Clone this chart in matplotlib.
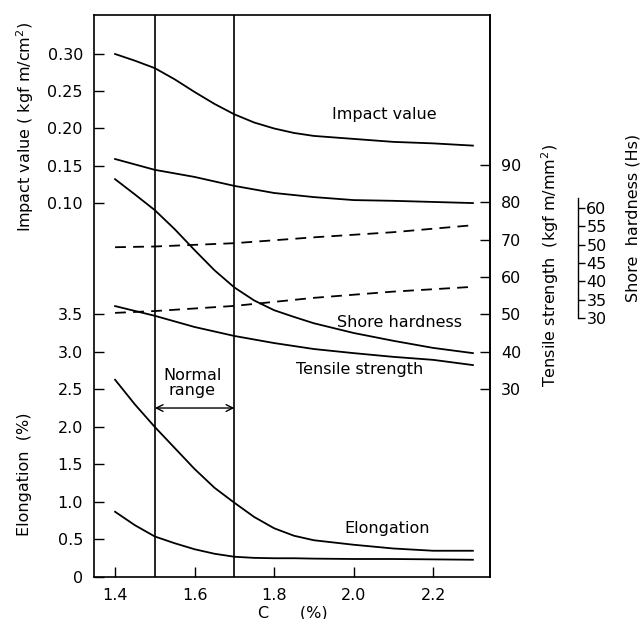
import numpy as np
import matplotlib
matplotlib.use("Agg")
import matplotlib.pyplot as plt

# --- DATA ---
c_pct = [1.4, 1.5, 1.6, 1.7, 1.8, 1.9, 2.0, 2.1, 2.2, 2.3]
c_fine = [1.4, 1.45, 1.5, 1.55, 1.6, 1.65, 1.7, 1.75, 1.8, 1.85, 1.9, 2.0, 2.1, 2.2, 2.3]

impact = [0.300, 0.291, 0.281, 0.266, 0.249, 0.233, 0.219, 0.208, 0.200, 0.194,
          0.190, 0.186, 0.182, 0.180, 0.177]                                  # kgf m/cm2

tensile_upper = [91.6, 88.7, 86.8, 84.4, 82.5, 81.4, 80.6, 80.4, 80.1, 79.8]   # kgf/mm2
hardness_curve = [86.2, 82.1, 77.9, 72.8, 67.2, 61.8, 57.2, 53.7, 51.1, 49.3,
                  47.6, 45.0, 42.9, 41.0, 39.6]                                # on tensile scale
tensile_lower = [52.2, 49.6, 46.6, 44.2, 42.3, 40.7, 39.6, 38.6, 37.8, 36.4]

dash_x = [1.4, 1.5, 1.7, 1.9, 2.1, 2.3]
shore_upper = [49.3, 49.5, 50.4, 52.0, 53.4, 55.3]   # Hs
shore_lower = [31.4, 31.9, 33.3, 35.5, 37.2, 38.5]

elong_upper = [2.63, 2.30, 2.00, 1.72, 1.44, 1.19, 0.99, 0.80, 0.65, 0.55,
               0.49, 0.43, 0.38, 0.35, 0.35]                                   # %
elong_lower = [0.87, 0.69, 0.54, 0.45, 0.37, 0.31, 0.27, 0.255, 0.25, 0.25,
               0.245, 0.24, 0.24, 0.235, 0.23]

normal_range = (1.5, 1.7)

x_ticks = [1.4, 1.6, 1.8, 2.0, 2.2]
elong_ticks = [0, 0.5, 1.0, 1.5, 2.0, 2.5, 3.0, 3.5]
elong_labels = ["0", "0.5", "1.0", "1.5", "2.0", "2.5", "3.0", "3.5"]
impact_ticks = [0.10, 0.15, 0.20, 0.25, 0.30]
impact_labels = ["0.10", "0.15", "0.20", "0.25", "0.30"]
tensile_ticks = [30, 40, 50, 60, 70, 80, 90]
shore_ticks = [30, 35, 40, 45, 50, 55, 60]


# --- scale mappings onto the common plot height (elongation units) ---
def imp2u(v):
    return 4.987 + (np.asarray(v) - 0.10) * 9.93

def ten2u(t):
    return 2.507 + (np.asarray(t) - 30) * 0.04977

def u2ten(u):
    return 30 + (np.asarray(u) - 2.507) / 0.04977

def sh2u(s):
    return 3.453 + (np.asarray(s) - 30) * 0.0489

def u2sh(u):
    return 30 + (np.asarray(u) - 3.453) / 0.0489


plt.rcParams['font.family'] = ['DejaVu Sans']
FS = 11.5
W, H = 644, 619
fig = plt.figure(figsize=(W / 100, H / 100), dpi=100)
ax = fig.add_axes([94 / W, 1 - 577 / H, 396 / W, 562 / H])
ax.set_xlim(1.347, 2.343)
ax.set_ylim(0, 7.493)

lw = 1.3
ax.plot(c_fine, imp2u(impact), color='black', lw=lw)
ax.plot(c_pct, ten2u(tensile_upper), color='black', lw=lw)
ax.plot(c_fine, ten2u(hardness_curve), color='black', lw=lw)
ax.plot(c_pct, ten2u(tensile_lower), color='black', lw=lw)
ax.plot(dash_x, sh2u(shore_upper), color='black', lw=lw, ls=(0, (6, 4)))
ax.plot(dash_x, sh2u(shore_lower), color='black', lw=lw, ls=(0, (6, 4)))
ax.plot(c_fine, elong_upper, color='black', lw=lw)
ax.plot(c_fine, elong_lower, color='black', lw=lw)

for xv in normal_range:
    ax.axvline(xv, color='black', lw=1.2)

ax.annotate("", xy=(normal_range[0], 2.253), xytext=(normal_range[1], 2.253),
            arrowprops=dict(arrowstyle='<->', color='black', lw=1.0,
                            shrinkA=0, shrinkB=0, mutation_scale=12))
ax.text(1.594, 2.587, "Normal\nrange", ha='center', va='center', fontsize=FS,
        linespacing=0.95)

ax.text(2.077, 6.16, "Impact value", ha='center', va='center', fontsize=FS)
ax.text(2.115, 3.387, "Shore hardness", ha='center', va='center', fontsize=FS)
ax.text(2.014, 2.773, "Tensile strength", ha='center', va='center', fontsize=FS)
ax.text(2.084, 0.653, "Elongation", ha='center', va='center', fontsize=FS)

# left axis: elongation + impact value
ax.set_yticks(elong_ticks + list(imp2u(impact_ticks)))
ax.set_yticklabels(elong_labels + impact_labels)
ax.set_xticks(x_ticks)
ax.set_xticklabels([f"{v:.1f}" for v in x_ticks])
ax.tick_params(direction='in', length=7, width=1, labelsize=FS, pad=8)
for sp in ax.spines.values():
    sp.set_linewidth(1.2)

# right axis: tensile strength
sec = ax.secondary_yaxis('right', functions=(u2ten, ten2u))
sec.set_yticks(tensile_ticks)
sec.tick_params(direction='in', length=7, width=1, labelsize=FS, pad=8)
sec.spines['right'].set_linewidth(1.2)

# separate shore hardness scale
sh = ax.secondary_yaxis((578 - 94) / 396, functions=(u2sh, sh2u))
sh.set_yticks(shore_ticks)
sh.spines['right'].set_bounds(30, 62.7)
sh.spines['right'].set_linewidth(1.0)
sh.tick_params(direction='out', length=5, width=1, labelsize=FS, pad=1)

# axis titles
fig.text(25 / W, 1 - 127 / H, "Impact value ( kgf m/cm$^2$)", rotation=90,
         ha='center', va='center', fontsize=FS)
fig.text(25 / W, 1 - 474 / H, "Elongation  (%)", rotation=90,
         ha='center', va='center', fontsize=FS)
fig.text(550 / W, 1 - 266 / H, "Tensile strength  (kgf m/mm$^2$)", rotation=90,
         ha='center', va='center', fontsize=FS)
fig.text(633 / W, 1 - 218 / H, "Shore  hardness (Hs)", rotation=90,
         ha='center', va='center', fontsize=FS)
fig.text(293 / W, 1 - 613 / H, "C      (%)", ha='center', va='center', fontsize=FS)

fig.savefig("out.png", dpi=100)
